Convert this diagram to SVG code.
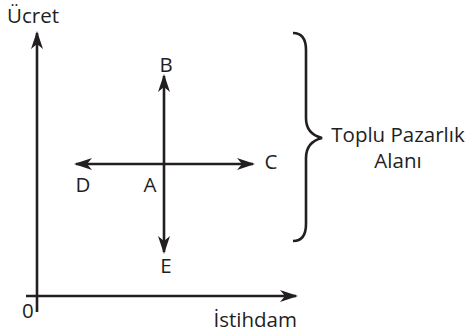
<svg xmlns="http://www.w3.org/2000/svg" width="467" height="335" viewBox="0 0 467 335">
<style>
.ln{stroke:#231f20;stroke-width:2.6;fill:none}
.t{font-family:"Open Sans",Lato,sans-serif;font-size:20.5px;fill:#231f20}
</style>
<defs>
<marker id="ah" viewBox="0 0 18 12" refX="16" refY="6" markerWidth="18" markerHeight="12" markerUnits="userSpaceOnUse" orient="auto">
<path d="M0,0 L18,6 L0,12 L5,6 Z" fill="#231f20"/>
</marker>
</defs>
<g id="connectors">
<line class="ln" x1="37" y1="312" x2="37" y2="33" marker-end="url(#ah)"/>
<line class="ln" x1="26" y1="296" x2="296" y2="296" marker-end="url(#ah)"/>
<line class="ln" x1="164" y1="164" x2="164" y2="76" marker-end="url(#ah)"/>
<line class="ln" x1="164" y1="164" x2="164" y2="252" marker-end="url(#ah)"/>
<line class="ln" x1="164" y1="164" x2="253" y2="164" marker-end="url(#ah)"/>
<line class="ln" x1="164" y1="164" x2="76" y2="164" marker-end="url(#ah)"/>
<path class="ln" d="M293,33 Q306,33 306,50 L306,118 Q306,134 322,138 Q306,142 306,158 L306,224 Q306,241 293,241"/>
</g>
<g id="axis-y"><text class="t" x="7" y="23">Ücret</text></g>
<g id="axis-x"><text class="t" x="297" y="327" text-anchor="end">İstihdam</text></g>
<g id="origin"><text class="t" x="22" y="318">0</text></g>
<g id="A"><text class="t" x="150" y="192" text-anchor="middle">A</text></g>
<g id="B"><text class="t" x="166" y="72" text-anchor="middle">B</text></g>
<g id="C"><text class="t" x="271" y="169" text-anchor="middle">C</text></g>
<g id="D"><text class="t" x="83" y="192" text-anchor="middle">D</text></g>
<g id="E"><text class="t" x="166" y="273" text-anchor="middle">E</text></g>
<g id="zone"><text class="t" text-anchor="middle"><tspan x="398" y="142">Toplu Pazarlık</tspan><tspan x="398" y="168">Alanı</tspan></text></g>
</svg>
